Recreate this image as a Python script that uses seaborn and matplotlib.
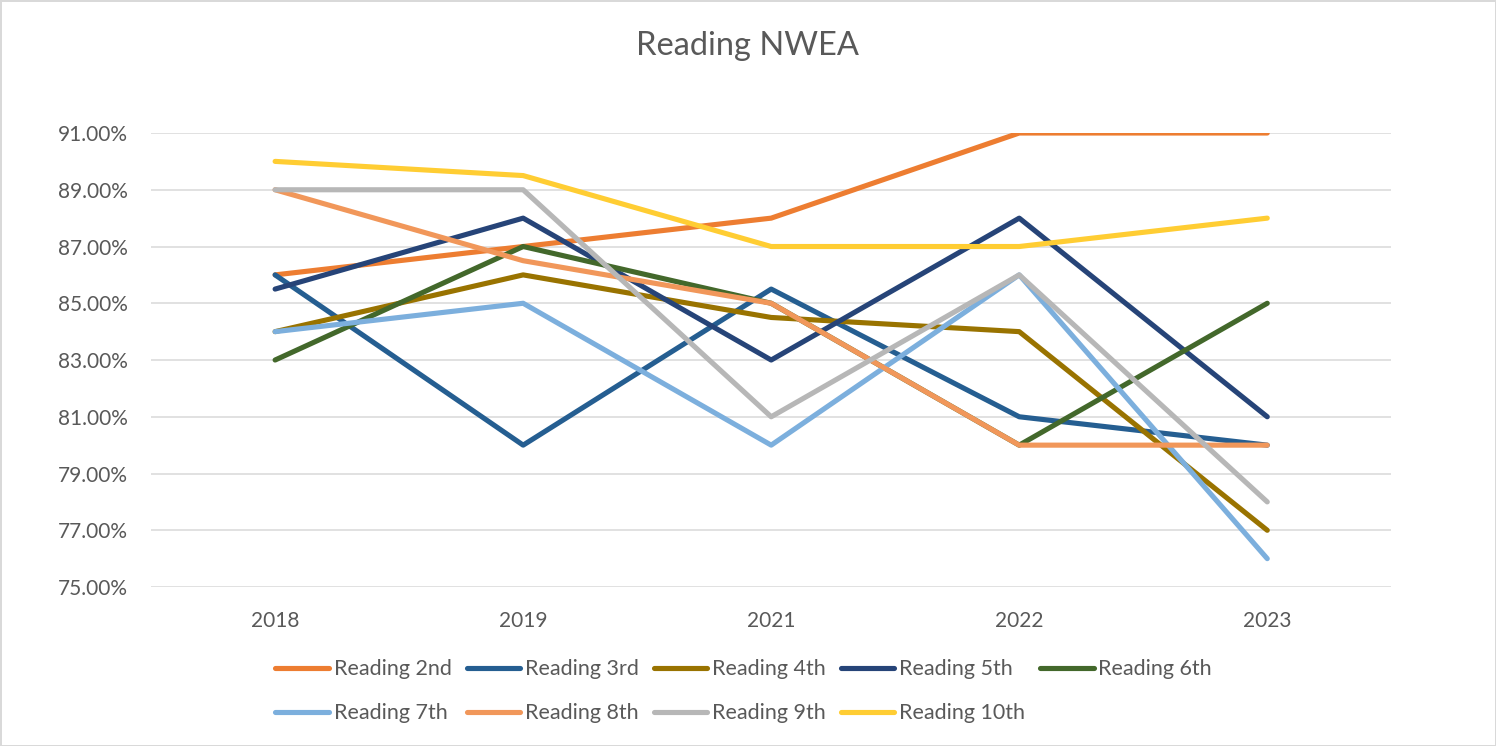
import matplotlib
matplotlib.use('Agg')
import matplotlib.pyplot as plt
import seaborn as sns
import pandas as pd
from matplotlib.ticker import FuncFormatter

# Data (percent)
years = ['2018', '2019', '2021', '2022', '2023']
reading_2nd = [86, 87, 88, 91, 91]
reading_3rd = [86, 80, 85.5, 81, 80]
reading_4th = [84, 86, 84.5, 84, 77]
reading_5th = [85.5, 88, 83, 88, 81]
reading_6th = [83, 87, 85, 80, 85]
reading_7th = [84, 85, 80, 86, 76]
reading_8th = [89, 86.5, 85, 80, 80]
reading_9th = [89, 89, 81, 86, 78]
reading_10th = [90, 89.5, 87, 87, 88]

series = {
    'Reading 2nd': reading_2nd,
    'Reading 3rd': reading_3rd,
    'Reading 4th': reading_4th,
    'Reading 5th': reading_5th,
    'Reading 6th': reading_6th,
    'Reading 7th': reading_7th,
    'Reading 8th': reading_8th,
    'Reading 9th': reading_9th,
    'Reading 10th': reading_10th,
}
colors = {
    'Reading 2nd': '#ED7D31',
    'Reading 3rd': '#255E91',
    'Reading 4th': '#997300',
    'Reading 5th': '#264478',
    'Reading 6th': '#43682B',
    'Reading 7th': '#7CAFDD',
    'Reading 8th': '#F1975A',
    'Reading 9th': '#B7B7B7',
    'Reading 10th': '#FFCD33',
}

rows = []
for name, vals in series.items():
    for y, v in zip(years, vals):
        rows.append({'Year': y, 'Score': v, 'Series': name})
df = pd.DataFrame(rows)

sns.set_style('white')
plt.rcParams['font.family'] = ['Lato', 'DejaVu Sans']
text_color = '#595959'
lw = 3.7

fig = plt.figure(figsize=(14.96, 7.46), dpi=100)
ax = fig.add_axes([0.101, 0.2131, 0.829, 0.6086])

sns.lineplot(data=df, x='Year', y='Score', hue='Series', palette=colors,
             sort=False, linewidth=lw, ax=ax, legend=False,
             solid_capstyle='round', solid_joinstyle='round')

ax.set_xlim(-0.5, len(years) - 0.5)
ax.set_ylim(75, 91)
ax.set_yticks(range(75, 92, 2))
ax.yaxis.set_major_formatter(FuncFormatter(lambda v, p: f'{v:.2f}%'))
ax.grid(axis='y', color='#D9D9D9', linewidth=1.1)
ax.set_axisbelow(True)
for s in ax.spines.values():
    s.set_visible(False)
ax.tick_params(axis='both', length=0, labelsize=15, colors=text_color)
ax.tick_params(axis='x', pad=17)
ax.tick_params(axis='y', pad=16.5)
ax.set_xlabel('')
ax.set_ylabel('')

fig.suptitle('Reading NWEA', fontsize=23.5, color=text_color, y=0.958)

# legend, row-major order for 5 columns
order = ['Reading 2nd', 'Reading 7th', 'Reading 3rd', 'Reading 8th',
         'Reading 4th', 'Reading 9th', 'Reading 5th', 'Reading 10th',
         'Reading 6th']
handles = [plt.Line2D([], [], color=colors[n], linewidth=lw,
                      solid_capstyle='round') for n in order]
leg = fig.legend(handles, order, loc='upper center', bbox_to_anchor=(0.497, 0.142),
                 ncol=5, frameon=False, fontsize=15.5, handlelength=2.5,
                 handletextpad=0.2, columnspacing=0.7, labelspacing=1.1)
for t in leg.get_texts():
    t.set_color(text_color)

fig.patch.set_edgecolor('#D9D9D9')
fig.patch.set_linewidth(2)
fig.savefig('out.png', dpi=100, edgecolor=fig.get_edgecolor())
